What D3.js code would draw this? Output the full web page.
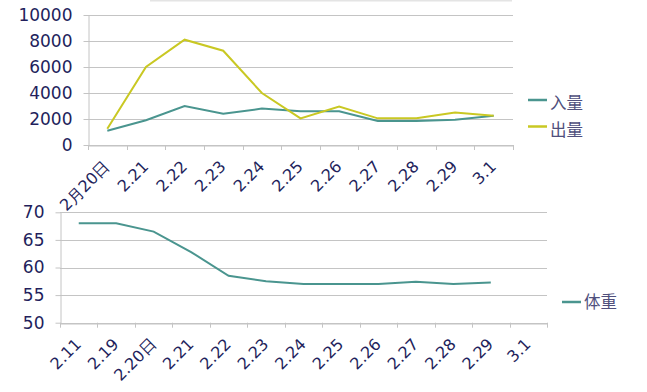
<!DOCTYPE html>
<html><head><meta charset="utf-8">
<script src="https://cdn.jsdelivr.net/npm/d3@7"></script>
<style>
body{margin:0;background:#fff;}
svg{display:block;}
svg text{font-family:"DejaVu Sans",Verdana,sans-serif;}
svg text.cjk{font-family:"Noto Sans CJK SC",sans-serif;}
</style></head>
<body><svg id="c" width="647" height="392"></svg>
<script>
// Top chart data
const topCategories = ["2月20日","2.21","2.22","2.23","2.24","2.25","2.26","2.27","2.28","2.29","3.1"];
const intake = [1100,1900,3000,2400,2800,2600,2600,1850,1850,1950,2250];
const output = [1250,6000,8100,7250,4000,2050,2950,2050,2050,2500,2250];
const topTicks = [0,2000,4000,6000,8000,10000];
// Bottom chart data
const bottomCategories = ["2.11","2.19","2.20日","2.21","2.22","2.23","2.24","2.25","2.26","2.27","2.28","2.29","3.1"];
const weight = [68,68,66.5,62.8,58.5,57.5,57,57,57,57.4,57,57.3,null];
const bottomTicks = [50,55,60,65,70];

const svg = d3.select("#c");
const textColor = "#231f5c";
const gridColor = "#c4c4c4";
const teal = "#4a958f";
const yellow = "#c9c823";

svg.append("line").attr("x1",150).attr("x2",512).attr("y1",0.5).attr("y2",0.5).attr("stroke","#e4e4e4").attr("stroke-width",2);

function drawChart(cfg){
  const x = d3.scaleBand().domain(cfg.categories).range([cfg.left,cfg.right]);
  const y = d3.scaleLinear().domain(cfg.domain).range([cfg.bottom,cfg.top]);
  const g = svg.append("g");
  g.selectAll(".grid").data(cfg.ticks).join("line")
    .attr("x1",cfg.left).attr("x2",cfg.right)
    .attr("y1",d=>Math.round(y(d))+0.5).attr("y2",d=>Math.round(y(d))+0.5)
    .attr("stroke",gridColor).attr("stroke-width",1);
  const ya = g.append("g").attr("transform",`translate(${cfg.left+0.5},0)`)
    .call(d3.axisLeft(y).tickValues(cfg.ticks).tickSize(5).tickSizeOuter(0).tickFormat(d3.format("d")))
    .attr("font-family",null);
  ya.select(".domain").attr("stroke",gridColor);
  ya.selectAll(".tick line").attr("stroke",gridColor);
  ya.selectAll("text").attr("fill",textColor).attr("font-size",cfg.yFont).attr("x",-cfg.yPad);
  const xa = g.append("g").attr("transform",`translate(0,${Math.round(cfg.bottom)+0.5})`)
    .call(d3.axisBottom(x).tickSize(0).tickSizeOuter(0));
  xa.select(".domain").attr("stroke",gridColor);
  xa.selectAll(".tick").remove();
  const edges = cfg.categories.map(c=>x(c)).concat([cfg.right]);
  g.selectAll(".xt").data(edges).join("line")
    .attr("x1",d=>Math.round(d)+0.5).attr("x2",d=>Math.round(d)+0.5)
    .attr("y1",cfg.bottom).attr("y2",cfg.bottom+5).attr("stroke",gridColor);
  g.selectAll(".xl").data(cfg.categories).join("text")
    .attr("transform",d=>`translate(${x(d)+x.bandwidth()/2+cfg.lx},${cfg.bottom+cfg.ly}) rotate(-45)`)
    .attr("text-anchor","end").attr("dy","0.75em")
    .attr("fill",textColor).attr("font-size",cfg.xFont).text(d=>d);
  const line = d3.line().defined(d=>d.v!=null)
    .x(d=>x(d.c)+x.bandwidth()/2).y(d=>y(d.v));
  cfg.series.forEach((s,i)=>{
    g.append("path").datum(cfg.categories.map((c,j)=>({c,v:s.values[j]})))
      .attr("d",line).attr("fill","none").attr("stroke",s.color).attr("stroke-width",2);
    const ly = cfg.legendY + i*cfg.legendGap;
    g.append("line").attr("x1",cfg.legendX).attr("x2",cfg.legendX+cfg.legendLen)
      .attr("y1",ly).attr("y2",ly).attr("stroke",s.color).attr("stroke-width",2.5);
    g.append("text").attr("class","cjk").attr("x",cfg.legendX+cfg.legendLen+3).attr("y",ly+cfg.legendTextDy).attr("dy","0.35em")
      .attr("fill","#4f4f7c").attr("font-size",16.5).text(s.name);
  });
}

drawChart({categories:topCategories,domain:[0,10000],ticks:topTicks,
  left:88,right:513,top:15,bottom:145,yFont:17,yPad:16,xFont:16,lx:-5,ly:14,
  series:[{name:"入量",values:intake,color:teal},{name:"出量",values:output,color:yellow}],
  legendX:528,legendY:100,legendGap:26.5,legendLen:19,legendTextDy:3.5});

drawChart({categories:bottomCategories,domain:[50,70],ticks:bottomTicks,
  left:60,right:547,top:212.3,bottom:322.7,yFont:17,yPad:16,xFont:16,lx:-5,ly:14,
  series:[{name:"体重",values:weight,color:teal}],
  legendX:562,legendY:302,legendGap:27,legendLen:19,legendTextDy:0.5});
</script></body></html>
